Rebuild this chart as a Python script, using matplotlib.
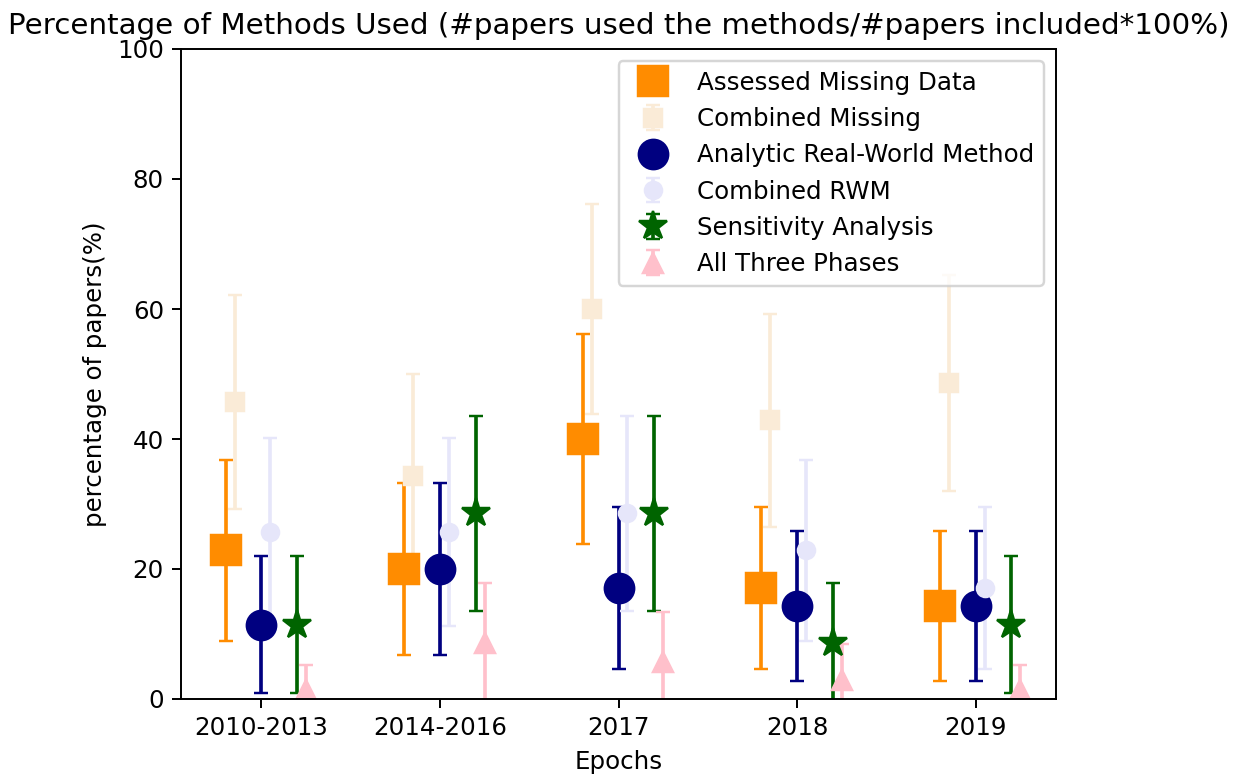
import numpy as np
import matplotlib
matplotlib.use("Agg")
import matplotlib.pyplot as plt

# epochs on the x axis
epochs = ["2010-2013", "2014-2016", "2017", "2018", "2019"]

# percentages, with lower / upper error bar ends
assessed = [22.9, 20.0, 40.0, 17.1, 14.3]
assessed_lo = [9.0, 6.7, 23.8, 4.6, 2.7]
assessed_hi = [36.8, 33.3, 56.2, 29.6, 25.9]

comb_missing = [45.7, 34.3, 60.0, 42.9, 48.6]
comb_missing_lo = [29.2, 18.6, 43.8, 26.5, 32.0]
comb_missing_hi = [62.2, 50.0, 76.2, 59.3, 65.2]

analytic = [11.4, 20.0, 17.1, 14.3, 14.3]
analytic_lo = [0.9, 6.7, 4.6, 2.7, 2.7]
analytic_hi = [22.0, 33.3, 29.6, 25.9, 25.9]

comb_rwm = [25.7, 25.7, 28.6, 22.9, 17.1]
comb_rwm_lo = [11.2, 11.2, 13.6, 9.0, 4.6]
comb_rwm_hi = [40.2, 40.2, 43.6, 36.8, 29.6]

sensitivity = [11.4, 28.6, 28.6, 8.6, 11.4]
sensitivity_lo = [0.9, 13.6, 13.6, -0.7, 0.9]
sensitivity_hi = [22.0, 43.6, 43.6, 17.9, 22.0]

all_three = [1.4, 8.6, 5.7, 2.9, 1.4]
all_three_lo = [-2.5, -0.7, -2.0, -2.7, -2.5]
all_three_hi = [5.3, 17.9, 13.4, 8.4, 5.3]

series = [
    ("Assessed Missing Data", assessed, assessed_lo, assessed_hi, -0.20, "s", "darkorange", 12),
    ("Combined Missing", comb_missing, comb_missing_lo, comb_missing_hi, -0.15, "s", "antiquewhite", 7),
    ("Analytic Real-World Method", analytic, analytic_lo, analytic_hi, 0.0, "o", "navy", 12),
    ("Combined RWM", comb_rwm, comb_rwm_lo, comb_rwm_hi, 0.05, "o", "lavender", 7),
    ("Sensitivity Analysis", sensitivity, sensitivity_lo, sensitivity_hi, 0.20, "*", "darkgreen", 12),
    ("All Three Phases", all_three, all_three_lo, all_three_hi, 0.25, "^", "pink", 8),
]

dpi = 176
fig = plt.figure(figsize=(1234 / dpi, 774 / dpi), dpi=dpi)
ax = fig.add_axes([181 / 1234, 1 - 699 / 774, 875 / 1234, 650 / 774])

x = np.arange(len(epochs))
for label, vals, lo, hi, off, mk, col, ms in series:
    vals = np.array(vals)
    yerr = [vals - np.array(lo), np.array(hi) - vals]
    ax.errorbar(x + off, vals, yerr=yerr, fmt=mk, color=col, markersize=ms,
                capsize=3, label=label)

ax.set_xticks(x)
ax.set_xticklabels(epochs)
ax.set_ylim(0, 100)
ax.set_xlim(-0.45, 4.45)
ax.set_xlabel("Epochs")
ax.set_ylabel("percentage of papers(%)")
ax.set_title("Percentage of Methods Used (#papers used the methods/#papers included*100%)")
ax.legend(loc="upper right")

fig.savefig("out.png", dpi=dpi)
